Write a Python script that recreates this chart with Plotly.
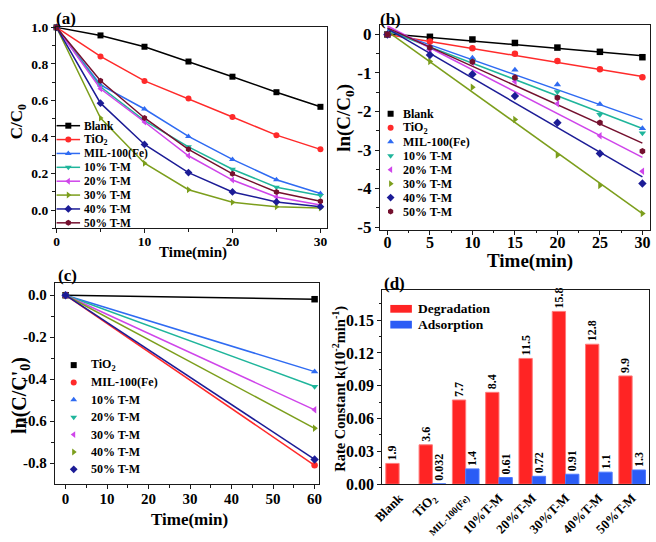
import plotly.graph_objects as go

W, H = 656, 542
FONT = "Liberation Serif"

# ---------------- data ----------------
series_names = ["Blank", "TiO<sub>2</sub>", "MIL-100(Fe)", "10% T-M", "20% T-M",
                "30% T-M", "40% T-M", "50% T-M"]
colors = ["#000000", "#FF2A2A", "#2F6BF2", "#1FB59B", "#CF45EA",
          "#7C9E1C", "#1C1C96", "#74102E"]
symbols = ["square", "circle", "triangle-up", "triangle-down", "triangle-left",
           "triangle-right", "diamond", "hexagon"]

# (a) C/C0 vs time
time_a = [0, 5, 10, 15, 20, 25, 30]
cc0_blank = [1.0, 0.956, 0.894, 0.813, 0.730, 0.645, 0.565]
cc0_tio2 = [1.0, 0.841, 0.707, 0.610, 0.509, 0.410, 0.332]
cc0_mil = [1.0, 0.685, 0.553, 0.403, 0.277, 0.166, 0.090]
cc0_t10 = [1.0, 0.675, 0.490, 0.346, 0.223, 0.125, 0.080]
cc0_t20 = [1.0, 0.664, 0.482, 0.297, 0.164, 0.071, 0.028]
cc0_t30 = [1.0, 0.504, 0.256, 0.111, 0.042, 0.018, 0.011]
cc0_t40 = [1.0, 0.585, 0.359, 0.205, 0.099, 0.044, 0.018]
cc0_t50 = [1.0, 0.708, 0.504, 0.332, 0.198, 0.099, 0.048]
cc0_all = [cc0_blank, cc0_tio2, cc0_mil, cc0_t10, cc0_t20, cc0_t30, cc0_t40, cc0_t50]

# (b) ln(C/C0) vs time, points and fitted lines (values at t=0 and t=30)
ln_blank = [0, -0.06, -0.13, -0.22, -0.34, -0.45, -0.59]
ln_tio2 = [0, -0.185, -0.36, -0.50, -0.69, -0.90, -1.11]
ln_mil = [0, -0.36, -0.61, -0.92, -1.30, -1.81, -2.44]
ln_t10 = [0, -0.38, -0.68, -1.17, -1.49, -2.08, -2.56]
ln_t20 = [0, -0.40, -0.73, -1.22, -1.80, -2.63, -3.55]
ln_t30 = [0, -0.70, -1.37, -2.21, -3.13, -3.92, -4.65]
ln_t40 = [0, -0.53, -1.03, -1.60, -2.29, -3.09, -3.87]
ln_t50 = [0, -0.34, -0.71, -1.12, -1.64, -2.29, -3.03]
ln_all = [ln_blank, ln_tio2, ln_mil, ln_t10, ln_t20, ln_t30, ln_t40, ln_t50]
fit_time = [0, 30]
fit_start = [0.02, 0.00, 0.12, 0.10, 0.22, 0.08, 0.15, 0.17]
fit_end = [-0.55, -1.09, -2.21, -2.44, -3.19, -4.65, -3.70, -2.82]

# (c) adsorption ln(C/C'0)
names_c = ["TiO<sub>2</sub>", "MIL-100(Fe)", "10% T-M", "20% T-M", "30% T-M",
           "40% T-M", "50% T-M"]
time_c = [0, 60]
ln_c_end = [-0.019, -0.81, -0.364, -0.435, -0.546, -0.634, -0.782]

# (d) rate constants (x10^-2 min^-1)
cats_d = ["Blank", "TiO2", "MIL-100(Fe)", "10%T-M", "20%T-M", "30%T-M", "40%T-M", "50%T-M"]
tick_d = ["Blank", "TiO<sub>2</sub>", "<span style='font-size:9.5px'>MIL-100(Fe)</span>",
          "10%T-M", "20%T-M", "30%T-M", "40%T-M", "50%T-M"]
k_degr = [1.9, 3.6, 7.7, 8.4, 11.5, 15.8, 12.8, 9.9]
k_adsr = [None, 0.032, 1.4, 0.61, 0.72, 0.91, 1.1, 1.3]
lab_degr = ["1.9", "3.6", "7.7", "8.4", "11.5", "15.8", "12.8", "9.9"]
lab_adsr = ["", "0.032", "1.4", "0.61", "0.72", "0.91", "1.1", "1.3"]

# ---------------- helpers ----------------
def px(x):
    return x / W

def py(y):
    return 1 - y / H

def f(size, color="black"):
    return dict(family=FONT, size=size, color=color, weight="bold")

LC = "#1a1a1a"

def axis(dom, rng, tsize, **kw):
    d = dict(domain=dom, range=rng, showline=True, mirror=True, linecolor=LC,
             linewidth=1.3, ticks="outside", ticklen=4, tickwidth=1.2, tickcolor=LC,
             showgrid=False, zeroline=False, tickfont=f(tsize), fixedrange=True)
    d.update(kw)
    return d

def minor(vals):
    return dict(ticks="outside", ticklen=2.5, tickwidth=1.1, tickcolor=LC,
                showgrid=False, tickmode="array", tickvals=vals)

fig = go.Figure()

# ---------------- panel (a) ----------------
for i in range(8):
    fig.add_trace(go.Scatter(x=time_a, y=cc0_all[i], mode="lines+markers",
                             line=dict(color=colors[i], width=1.5),
                             marker=dict(symbol=symbols[i], size=6, color=colors[i]),
                             xaxis="x", yaxis="y", showlegend=False, cliponaxis=False))

# ---------------- panel (b) ----------------
for i in range(8):
    fig.add_trace(go.Scatter(x=fit_time, y=[fit_start[i], fit_end[i]], mode="lines",
                             line=dict(color=colors[i], width=1.5),
                             xaxis="x2", yaxis="y2", showlegend=False))
for i in range(8):
    fig.add_trace(go.Scatter(x=time_a, y=ln_all[i], mode="markers",
                             marker=dict(symbol=symbols[i], size=6.5, color=colors[i]),
                             xaxis="x2", yaxis="y2", showlegend=False, cliponaxis=False))

# ---------------- panel (c) ----------------
for i in range(7):
    fig.add_trace(go.Scatter(x=time_c, y=[0, ln_c_end[i]], mode="lines+markers",
                             line=dict(color=colors[i], width=1.5),
                             marker=dict(symbol=symbols[i], size=6.5, color=colors[i]),
                             xaxis="x3", yaxis="y3", showlegend=False, cliponaxis=False))

# ---------------- panel (d) ----------------
fig.add_trace(go.Bar(x=cats_d, y=[v / 100 for v in k_degr], text=lab_degr,
                     textposition="outside", textangle=-90, constraintext="none",
                     textfont=f(12), cliponaxis=False,
                     marker=dict(color="#FF2424", line=dict(color="#FF7A7A", width=1)),
                     xaxis="x4", yaxis="y4", showlegend=False))
fig.add_trace(go.Bar(x=cats_d, y=[(v / 100 if v is not None else None) for v in k_adsr],
                     text=lab_adsr, textposition="outside", textangle=-90,
                     constraintext="none", textfont=f(12), cliponaxis=False,
                     marker=dict(color="#2B5CF5", line=dict(color="#4C78FF", width=1)),
                     xaxis="x4", yaxis="y4", showlegend=False))

# ---------------- legends (drawn in a pixel overlay) ----------------
annotations = []
shapes = []

def legend_text(x, y, text, size):
    annotations.append(dict(x=x, y=y, xref="x5", yref="y5", text=text, showarrow=False,
                            xanchor="left", yanchor="middle", font=f(size)))

# (a): line + marker samples
for i in range(8):
    yy = 122.3 + i * 14.3
    fig.add_trace(go.Scatter(x=[47.5, 71.5], y=[yy, yy], mode="lines",
                             line=dict(color=colors[i], width=1.5),
                             xaxis="x5", yaxis="y5", showlegend=False, cliponaxis=False))
    fig.add_trace(go.Scatter(x=[59.5], y=[yy], mode="markers",
                             marker=dict(symbol=symbols[i], size=6, color=colors[i]),
                             xaxis="x5", yaxis="y5", showlegend=False, cliponaxis=False))
    legend_text(73.5, yy, series_names[i], 11.5)

# (b): marker samples
for i in range(8):
    yy = 110 + i * 14.4
    fig.add_trace(go.Scatter(x=[388.3], y=[yy], mode="markers",
                             marker=dict(symbol=symbols[i], size=6, color=colors[i]),
                             xaxis="x5", yaxis="y5", showlegend=False, cliponaxis=False))
    legend_text(398.5, yy, series_names[i], 12)

# (c): marker samples
for i in range(7):
    yy = 369 + i * 17.9
    fig.add_trace(go.Scatter(x=[65], y=[yy], mode="markers",
                             marker=dict(symbol=symbols[i], size=6, color=colors[i]),
                             xaxis="x5", yaxis="y5", showlegend=False, cliponaxis=False))
    legend_text(81, yy, names_c[i], 12)

# (d): bar swatches
for j, (lab, col) in enumerate([("Degradation", "#FF2424"), ("Adsorption", "#2B5CF5")]):
    yy = 311 + j * 16.3
    shapes.append(dict(type="rect", xref="x5", yref="y5", x0=388, x1=410,
                       y0=yy - 4, y1=yy + 4, fillcolor=col, line=dict(width=0)))
    legend_text(414.5, yy, lab, 13.5)

# panel labels
for lab, x, y in [("(a)", 57, 12), ("(b)", 388, 13), ("(c)", 59, 277), ("(d)", 392, 285)]:
    annotations.append(dict(x=x, y=y, xref="x5", yref="y5", text=lab, showarrow=False,
                            xanchor="center", yanchor="middle", font=f(17)))

# axis titles
def title(x, y, text, size, angle=0):
    annotations.append(dict(x=x, y=y, xref="x5", yref="y5", text=text, showarrow=False,
                            xanchor="center", yanchor="middle", textangle=angle,
                            font=f(size)))

title(187, 253, "Time(min)", 15)
title(8, 118, "C/C<sub>0</sub>", 17, -90)
title(530, 262, "Time(min)", 19)
title(341, 114, "ln(C/C<sub>0</sub>)", 19, -90)
title(183, 528, "Time(min)", 17)
title(10, 400, "ln(C/C'<sub>0</sub>)", 20, -90)
title(336, 393, "Rate Constant k(10<sup>-2</sup>min<sup>-1</sup>)", 14.5, -90)

# ---------------- axes ----------------
ya_vals = [0.0, 0.2, 0.4, 0.6, 0.8, 1.0]
ya_text = ["0.0", "0.2", "0.4", "0.6", "0.8", "1.0"]
yb_vals = [0, -1, -2, -3, -4, -5]
yb_text = ["0", "-1", "-2", "-3", "-4", "-5"]
yc_vals = [0.0, -0.2, -0.4, -0.6, -0.8]
yc_text = ["0.0", "-0.2", "-0.4", "-0.6", "-0.8"]
yd_vals = [0.0, 0.03, 0.06, 0.09, 0.12, 0.15]
yd_text = ["0.00", "0.03", "0.06", "0.09", "0.12", "0.15"]

fig.update_layout(
    width=W, height=H, margin=dict(l=0, r=0, t=0, b=0),
    paper_bgcolor="white", plot_bgcolor="rgba(0,0,0,0)",
    showlegend=False, bargap=0.2, bargroupgap=0, barmode="group",
    xaxis=axis([px(47), px(323)], [-0.05, 30.7], 13.5, anchor="y",
               tickmode="array", tickvals=[0, 10, 20, 30], ticklabelstandoff=-4,
               minor=minor([5, 15, 25])),
    yaxis=axis([py(228), py(21)], [-0.1, 1.0], 13.5, anchor="x",
               tickmode="array", tickvals=ya_vals, ticktext=ya_text,
               minor=minor([-0.1, 0.1, 0.3, 0.5, 0.7, 0.9])),
    xaxis2=axis([px(377.5), px(653)], [-0.87, 30.9], 16, anchor="y2",
                tickmode="array", tickvals=[0, 5, 10, 15, 20, 25, 30], ticklabelstandoff=-6,
                minor=minor([2.5, 7.5, 12.5, 17.5, 22.5, 27.5])),
    yaxis2=axis([py(229.5), py(19)], [-5.07, 0.235], 17, anchor="x2",
                tickmode="array", tickvals=yb_vals, ticktext=yb_text,
                minor=minor([-0.5, -1.5, -2.5, -3.5, -4.5])),
    xaxis3=axis([px(45.7), px(315)], [-2.6, 61], 15, anchor="y3",
                tickmode="array", tickvals=[0, 10, 20, 30, 40, 50, 60], ticklabelstandoff=-3,
                minor=minor([5, 15, 25, 35, 45, 55])),
    yaxis3=axis([py(491.7), py(284)], [-0.9, 0.06], 15, anchor="x3",
                tickmode="array", tickvals=yc_vals, ticktext=yc_text,
                minor=minor([-0.1, -0.3, -0.5, -0.7])),
    xaxis4=axis([px(380), px(651.7)], [-0.5, 7.5], 13, anchor="y4",
                tickmode="array", tickvals=cats_d, ticktext=tick_d, tickangle=-45,
                ticks=""),
    yaxis4=axis([py(491.7), py(291.7)], [0, 0.1775], 16, anchor="x4",
                tickmode="array", tickvals=yd_vals, ticktext=yd_text,
                minor=minor([0.015, 0.045, 0.075, 0.105, 0.135, 0.165])),
    xaxis5=dict(domain=[0, 1], range=[0, W], visible=False, fixedrange=True, anchor="y5"),
    yaxis5=dict(domain=[0, 1], range=[H, 0], visible=False, fixedrange=True, anchor="x5"),
    annotations=annotations, shapes=shapes,
)

fig.write_html("out.html", config={"displayModeBar": False},
               post_script="document.body.style.margin='0';document.body.style.overflow='hidden';")
